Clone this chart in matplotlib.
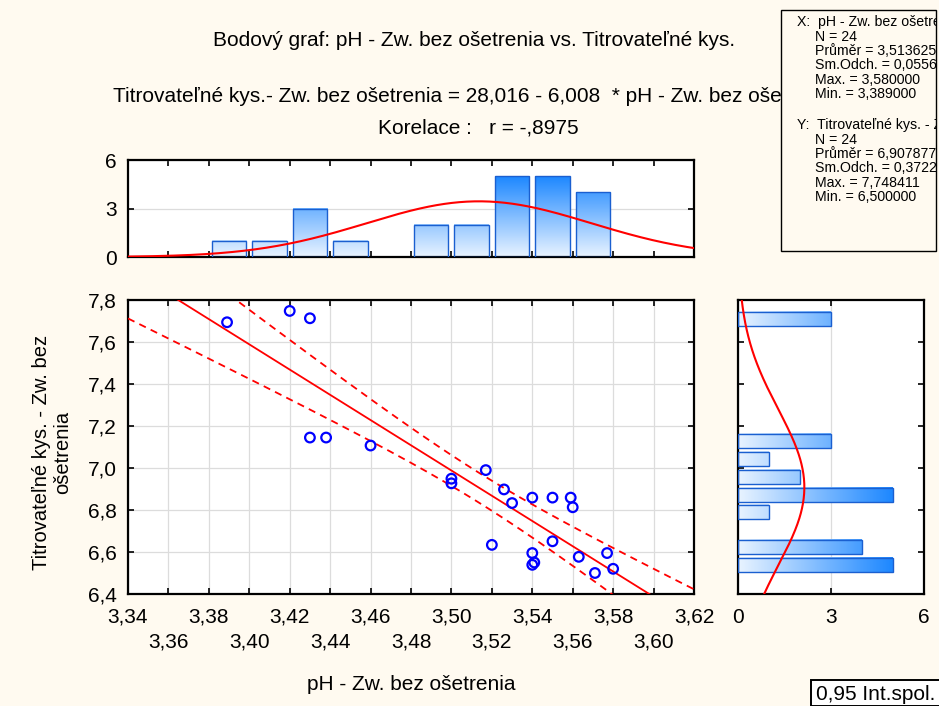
import numpy as np
import matplotlib
matplotlib.use("Agg")
from matplotlib import pyplot as plt
from matplotlib.patches import Rectangle
from matplotlib.colors import LinearSegmentedColormap
from matplotlib.ticker import FuncFormatter, MultipleLocator

plt.rcParams['font.family'] = ['Liberation Sans', 'DejaVu Sans']

# scatter data
ph = [3.389, 3.420, 3.430, 3.430, 3.438, 3.460, 3.500, 3.500, 3.517, 3.526, 3.530, 3.540,
      3.550, 3.559, 3.560, 3.520, 3.550, 3.540, 3.540, 3.541, 3.563, 3.577, 3.571, 3.580]
tk = [7.694, 7.748, 7.713, 7.145, 7.145, 7.107, 6.949, 6.927, 6.990, 6.898, 6.833, 6.859,
      6.859, 6.859, 6.813, 6.634, 6.651, 6.595, 6.539, 6.550, 6.577, 6.595, 6.500, 6.520]

# regression from the chart text
b0, b1 = 28.016, -6.008
t_crit = 2.074  # t(0.975, 22)

# histogram of pH (top)
top_centers = [3.39, 3.41, 3.43, 3.45, 3.47, 3.49, 3.51, 3.53, 3.55, 3.57]
top_counts = [1, 1, 3, 1, 0, 2, 2, 5, 5, 4]
top_bin = 0.02
x_mean, x_sd = 3.513625, 0.0556

# histogram of titratable acidity (right)
right_centers = [7.710, 7.128, 7.042, 6.957, 6.872, 6.790, 6.623, 6.540]
right_counts = [3, 3, 1, 2, 5, 1, 4, 5]
right_bin = 0.0832
y_mean, y_sd = 6.907877, 0.3722

major_x = [3.34, 3.38, 3.42, 3.46, 3.50, 3.54, 3.58, 3.62]
minor_x = [3.36, 3.40, 3.44, 3.48, 3.52, 3.56, 3.60]

bg = '#fffaf0'
edge_blue = '#1a5fd0'
cmap = LinearSegmentedColormap.from_list('bl', ['#e8f3ff', '#1e88ff'])
fs = 15

W, H = 939, 706
fig = plt.figure(figsize=(W / 100, H / 100), dpi=100, facecolor=bg)


def fbox(x0, y0, x1, y1):
    # pixel box -> figure coords
    return [x0 / W, 1 - y1 / H, (x1 - x0) / W, (y1 - y0) / H]


def comma(d):
    return FuncFormatter(lambda v, p: ("%.*f" % (d, v)).replace('.', ','))


def style_frame(ax):
    for s in ax.spines.values():
        s.set_linewidth(1.6)
    ax.tick_params(which='both', direction='in', top=True, right=True, length=4,
                   width=1.2, labelsize=fs)


def grad_bar(ax, x0, x1, y0, y1, val, horizontal=False):
    g = np.linspace(0, val, 64)
    img = g.reshape(1, -1) if horizontal else g.reshape(-1, 1)
    ax.imshow(img, extent=[x0, x1, y0, y1], origin='lower', cmap=cmap, vmin=0, vmax=5,
              aspect='auto', zorder=2, interpolation='bilinear')
    ax.add_patch(Rectangle((x0, y0), x1 - x0, y1 - y0, fill=False, ec=edge_blue, lw=1, zorder=3))


# main scatter
ax = fig.add_axes(fbox(128, 300, 694, 594))
ax.set_facecolor('white')
x = np.array(ph)
y = np.array(tk)
n = len(x)
xx = np.linspace(3.34, 3.62, 300)
fit = b0 + b1 * xx
res = y - (b0 + b1 * x)
s = np.sqrt(np.sum(res ** 2) / (n - 2))
sxx = np.sum((x - x.mean()) ** 2)
half = t_crit * s * np.sqrt(1 / n + (xx - x.mean()) ** 2 / sxx)
ax.plot(xx, fit, color='red', lw=1.3, zorder=3)
ax.plot(xx, fit + half, color='red', lw=1.3, ls=(0, (4, 3)), zorder=3)
ax.plot(xx, fit - half, color='red', lw=1.3, ls=(0, (4, 3)), zorder=3)
ax.scatter(x, y, s=48, facecolors='none', edgecolors='#0000ff', linewidths=1.6, zorder=4)
ax.set_xlim(3.34, 3.62)
ax.set_ylim(6.4, 7.8)
ax.set_xticks(major_x)
ax.set_xticks(minor_x, minor=True)
ax.xaxis.set_major_formatter(comma(2))
ax.xaxis.set_minor_formatter(comma(2))
ax.yaxis.set_major_locator(MultipleLocator(0.2))
ax.yaxis.set_major_formatter(comma(1))
ax.grid(which='both', color='#dcdcdc', lw=0.9, zorder=0)
ax.set_axisbelow(True)
style_frame(ax)
ax.tick_params(axis='x', which='major', pad=10)
ax.tick_params(axis='x', which='minor', pad=28)
ax.tick_params(axis='y', pad=8)

# top histogram
axt = fig.add_axes(fbox(128, 160, 694, 257))
axt.set_facecolor('white')
bw = top_bin * 0.85
for c, k in zip(top_centers, top_counts):
    if k > 0:
        grad_bar(axt, c - bw / 2, c + bw / 2, 0, k, k)
axt.plot(xx, n * top_bin * np.exp(-0.5 * ((xx - x_mean) / x_sd) ** 2) / (x_sd * np.sqrt(2 * np.pi)),
         color='red', lw=1.5, zorder=4)
axt.set_xlim(3.34, 3.62)
axt.set_ylim(0, 6)
axt.set_xticks(np.arange(3.34, 3.621, 0.02))
axt.set_xticklabels([])
axt.set_yticks([0, 3, 6])
axt.yaxis.grid(True, color='#dcdcdc', lw=0.9)
axt.set_axisbelow(True)
style_frame(axt)
axt.tick_params(axis='y', pad=8)

# right histogram
axr = fig.add_axes(fbox(738, 300, 924, 594))
axr.set_facecolor('white')
bh = 0.067
for c, k in zip(right_centers, right_counts):
    grad_bar(axr, 0, k, c - bh / 2, c + bh / 2, k, horizontal=True)
yy = np.linspace(6.4, 7.8, 300)
axr.plot(n * right_bin * np.exp(-0.5 * ((yy - y_mean) / y_sd) ** 2) / (y_sd * np.sqrt(2 * np.pi)), yy,
         color='red', lw=1.5, zorder=4)
axr.set_xlim(0, 6)
axr.set_ylim(6.4, 7.8)
axr.set_xticks([0, 3, 6])
axr.yaxis.set_major_locator(MultipleLocator(0.2))
axr.set_yticklabels([])
axr.xaxis.grid(True, color='#dcdcdc', lw=0.9)
axr.set_axisbelow(True)
style_frame(axr)
axr.tick_params(axis='x', pad=10)

# texts
fig.text(474 / W, 1 - 40 / H, "Bodový graf: pH - Zw. bez ošetrenia vs. Titrovateľné kys.",
         ha='center', va='center', fontsize=fs)
fig.text(113 / W, 1 - 97 / H,
         "Titrovateľné kys.- Zw. bez ošetrenia = 28,016 - 6,008  * pH - Zw. bez ošetrenia",
         ha='left', va='center', fontsize=fs, zorder=1)
fig.text(478 / W, 1 - 128 / H, "Korelace :   r = -,8975", ha='center', va='center', fontsize=fs)
fig.text(411 / W, 1 - 685 / H, "pH - Zw. bez ošetrenia", ha='center', va='center', fontsize=fs)
fig.text(52 / W, 1 - 452 / H, "Titrovateľné kys. - Zw. bez\nošetrenia", ha='center', va='center',
         rotation=90, multialignment='center', fontsize=14.5, linespacing=1.15)

# stats box
box = Rectangle((781 / W, 1 - 251 / H), 155 / W, 241 / H, transform=fig.transFigure,
                facecolor=bg, edgecolor='black', lw=1.0, zorder=5)
fig.patches.append(box)
stats_x = ["N = 24", "Průměr = 3,513625", "Sm.Odch. = 0,055639", "Max. = 3,580000", "Min. = 3,389000"]
stats_y = ["N = 24", "Průměr = 6,907877", "Sm.Odch. = 0,372213", "Max. = 7,748411", "Min. = 6,500000"]
lines = [(797, 22, "X:  pH - Zw. bez ošetrenia")]
lines += [(815, 37 + 14.2 * i, t) for i, t in enumerate(stats_x)]
lines += [(797, 125, "Y:  Titrovateľné kys. - Zw. bez ošetrenia")]
lines += [(815, 140 + 14.2 * i, t) for i, t in enumerate(stats_y)]
for px, py, t in lines:
    tt = fig.text(px / W, 1 - py / H, t, ha='left', va='center', fontsize=10.2, zorder=6)
    tt.set_clip_path(box)

# legend box
lbox = Rectangle((811 / W, 0), 140 / W, 26 / H, transform=fig.transFigure,
                 facecolor='white', edgecolor='black', lw=1.4, zorder=5)
fig.patches.append(lbox)
fig.text(816 / W, 1 - 694 / H, "0,95 Int.spol.", ha='left', va='center', fontsize=fs, zorder=6)

fig.savefig("out.png", dpi=100, facecolor=bg)
